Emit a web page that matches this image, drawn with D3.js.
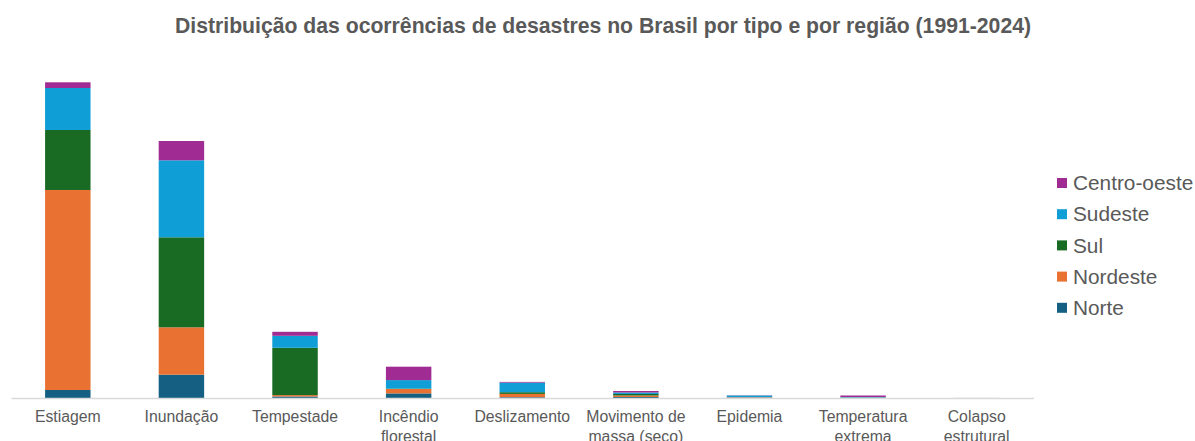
<!DOCTYPE html>
<html>
<head>
<meta charset="utf-8">
<script src="https://cdn.jsdelivr.net/npm/d3@7"></script>
<style>
  html, body { margin: 0; padding: 0; background: #fff; }
  svg { display: block; font-family: "Liberation Sans", Arial, sans-serif; }
</style>
</head>
<body>
<svg id="chart" width="1195" height="441"></svg>
<script>
// Disaster types (x categories); "\n" splits a label over two lines
const categories = ["Estiagem", "Inundação", "Tempestade", "Incêndio\nflorestal", "Deslizamento",
  "Movimento de\nmassa (seco)", "Epidemia", "Temperatura\nextrema", "Colapso\nestrutural"];

// Regions, stacked bottom to top
const regions = ["Norte", "Nordeste", "Sul", "Sudeste", "Centro-oeste"];
const regionColors = ["#156082", "#E97132", "#196B24", "#0F9ED5", "#A02B93"];

// Number of occurrences per region, one value per category
const norte       = [800,   2330, 150,  460, 80,  100, 20,  10,  2];
const nordeste    = [20000, 4740, 140,  440, 330, 150, 50,  10,  2];
const sul         = [6000,  9000, 4730, 30,  170, 150, 10,  30,  1];
const sudeste     = [4200,  7700, 1200, 860, 960, 150, 170, 50,  2];
const centroOeste = [570,   1930, 400,  1340, 70, 150, 20,  150, 1];

const title = "Distribuição das ocorrências de desastres no Brasil por tipo e por região (1991-2024)";

const seriesValues = [norte, nordeste, sul, sudeste, centroOeste];
const rows = categories.map((c, i) => {
  const r = { cat: c };
  regions.forEach((reg, k) => { r[reg] = seriesValues[k][i]; });
  return r;
});

const svg = d3.select("#chart");
const textColor = "#595959";

const x = d3.scaleBand().domain(categories).range([11, 1033.5]).paddingInner(0.6).paddingOuter(0.3);
const y = d3.scaleLinear().domain([0, 35000]).range([398, 48]);

const stack = d3.stack().keys(regions);
const layers = stack(rows);

svg.append("g").selectAll("g")
  .data(layers)
  .join("g")
  .attr("fill", (d, i) => regionColors[i])
  .selectAll("rect")
  .data(d => d)
  .join("rect")
  .attr("x", d => x(d.data.cat))
  .attr("width", x.bandwidth())
  .attr("y", d => y(d[1]))
  .attr("height", d => Math.max(0, y(d[0]) - y(d[1])));

// Category axis
const xAxis = svg.append("g")
  .attr("transform", "translate(0,398)")
  .call(d3.axisBottom(x).tickSize(0).tickPadding(13));
xAxis.select(".domain").attr("stroke", "#d9d9d9").attr("stroke-width", 1.3);
xAxis.selectAll(".tick text").each(function(d) {
  const t = d3.select(this);
  const lines = d.split("\n");
  t.text(null)
    .attr("fill", textColor)
    .style("font-size", "15.8px")
    .style("font-family", "'Liberation Sans', Arial, sans-serif");
  lines.forEach((ln, i) => {
    t.append("tspan").attr("x", 0).attr("dy", i === 0 ? "0.71em" : "1.25em").text(ln);
  });
});

// Title
svg.append("text")
  .attr("x", 603).attr("y", 33)
  .attr("text-anchor", "middle")
  .attr("fill", textColor)
  .style("font-size", "21.2px")
  .style("font-weight", "bold")
  .text(title);

// Legend, listed top to bottom in reverse stacking order
const legendItems = regions.map((r, i) => ({ name: r, color: regionColors[i] })).reverse();
const legend = svg.append("g").attr("transform", "translate(1057,183)");
const li = legend.selectAll("g").data(legendItems).join("g")
  .attr("transform", (d, i) => `translate(0,${i * 31.2})`);
li.append("rect").attr("x", 0).attr("y", -5).attr("width", 10).attr("height", 10).attr("fill", d => d.color);
li.append("text").attr("x", 16).attr("y", 0).attr("dy", "0.35em")
  .attr("fill", textColor).style("font-size", "20.8px").text(d => d.name);
</script>
</body>
</html>
